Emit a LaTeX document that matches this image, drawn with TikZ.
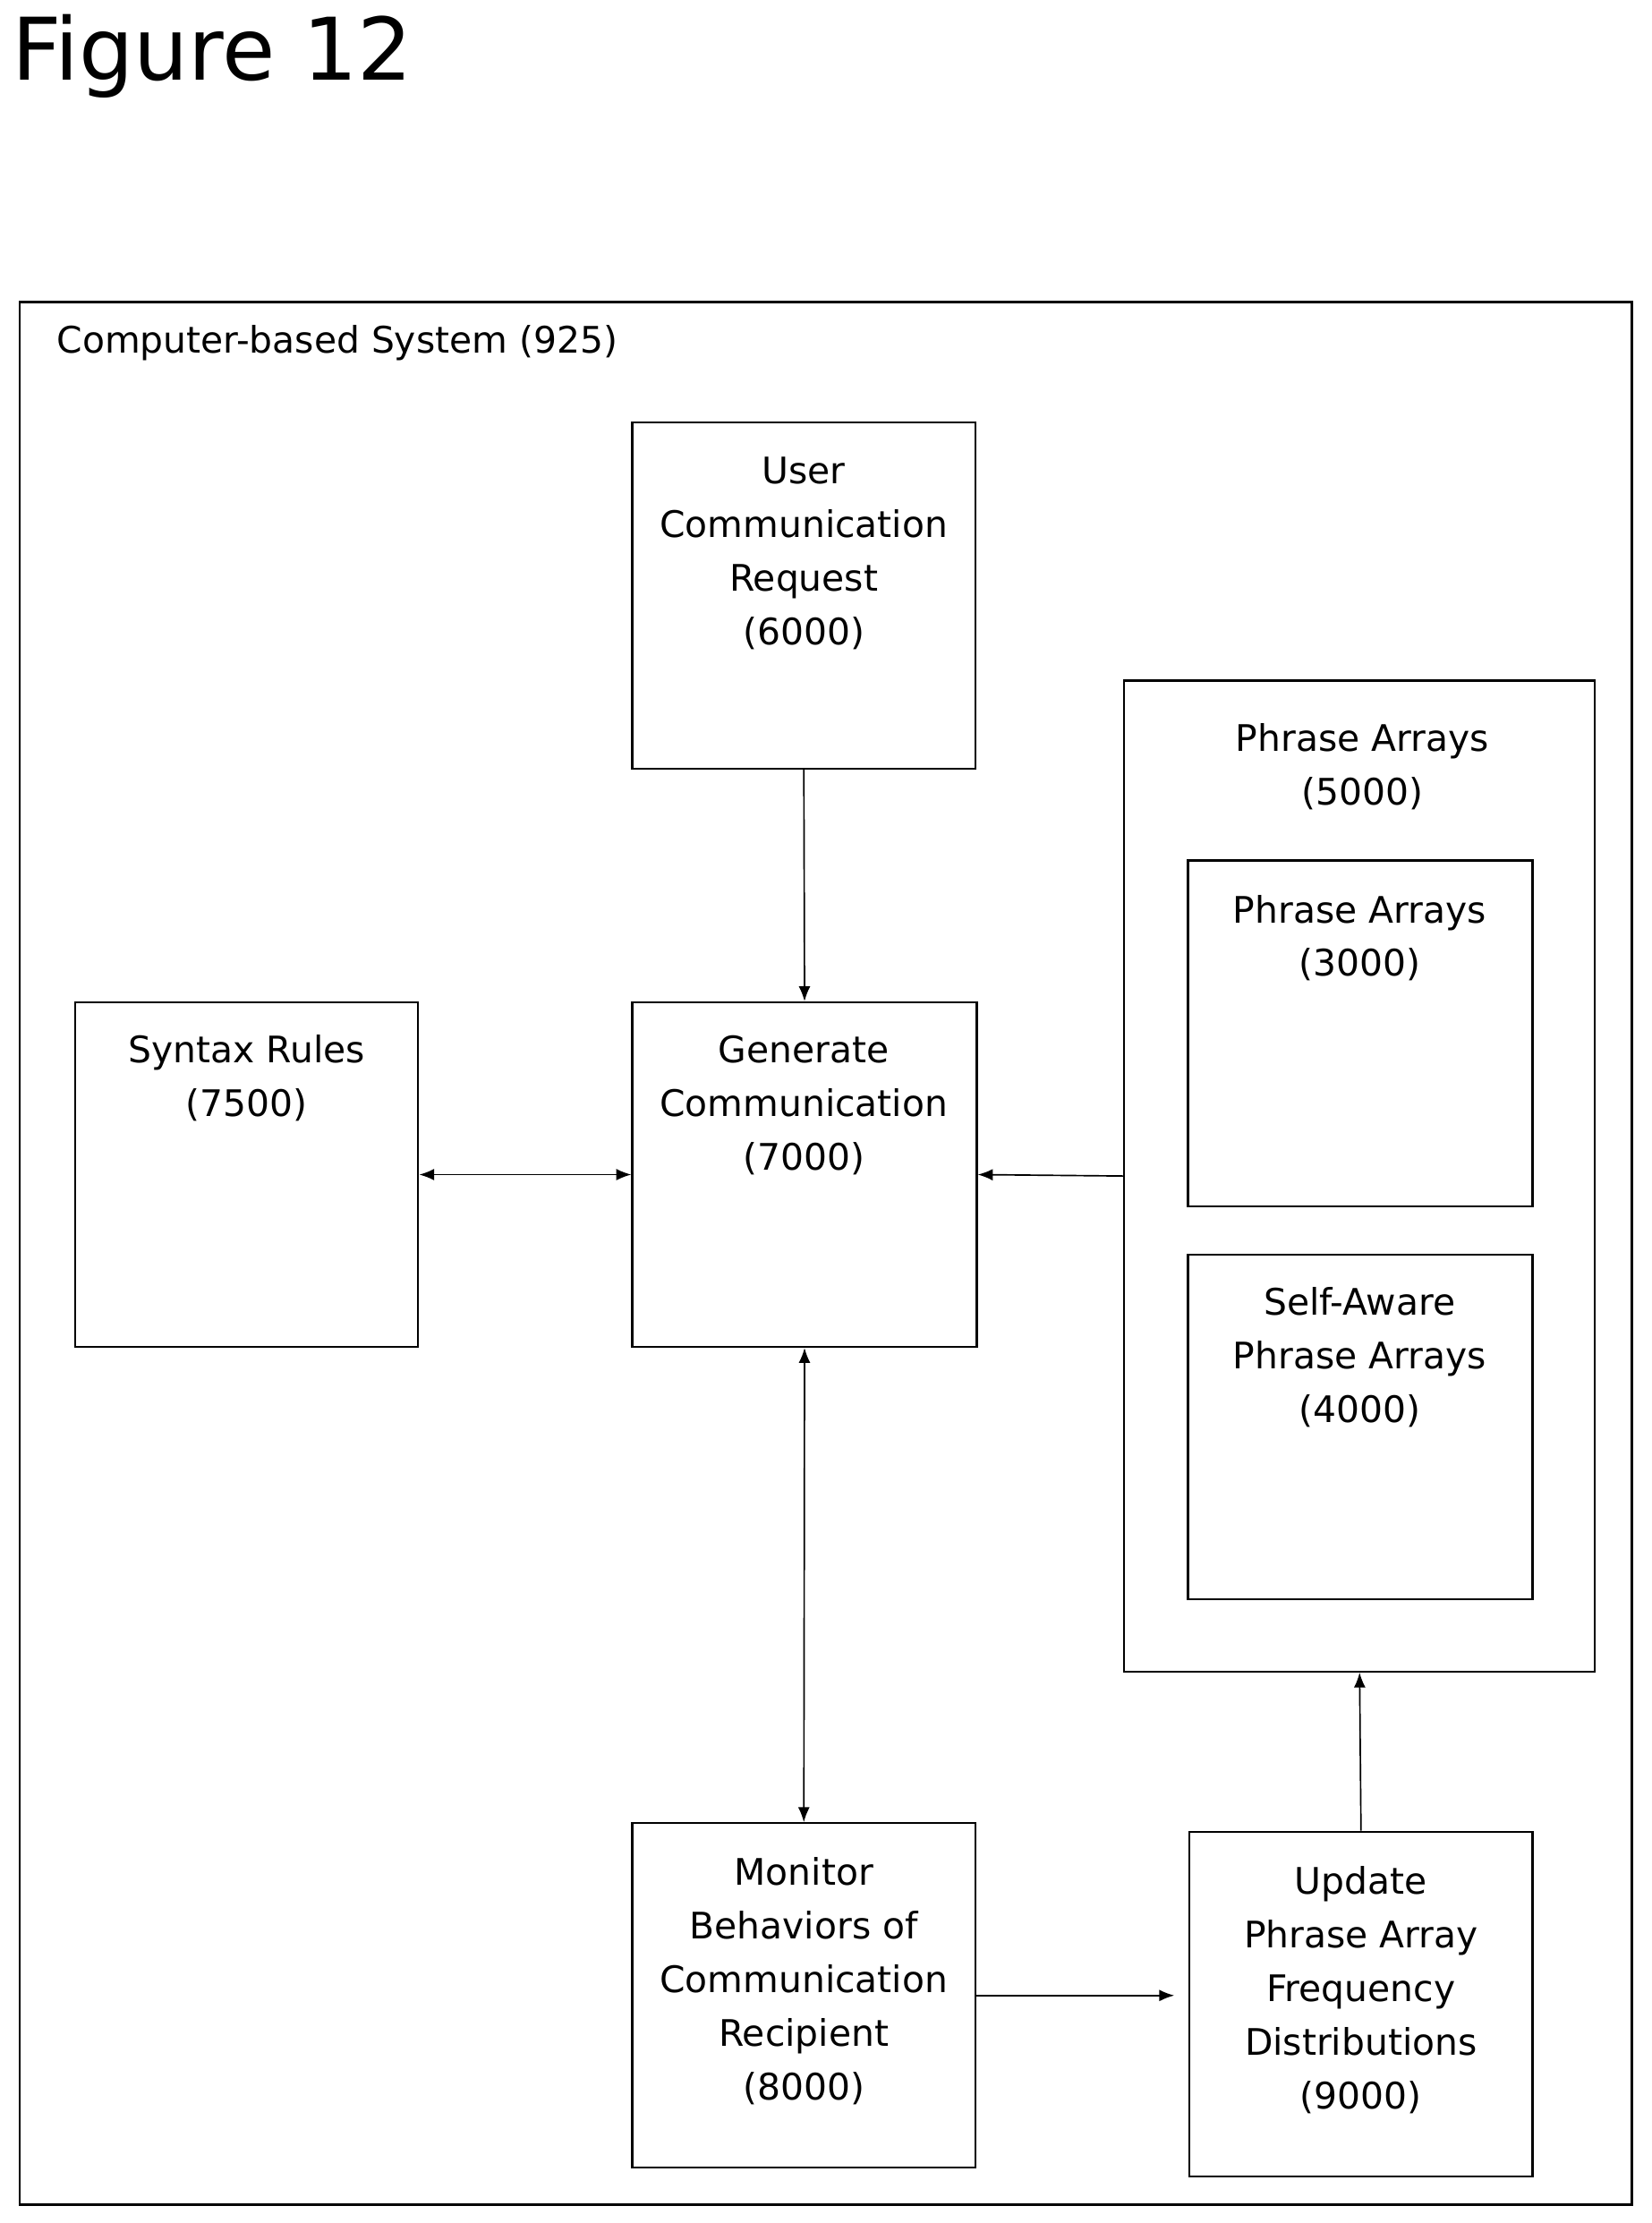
\documentclass[tikz,border=0pt]{standalone}
\usepackage{fontspec}
\setmainfont{DejaVu Sans}
\usetikzlibrary{arrows.meta}
\begin{document}
\begin{tikzpicture}[x=0.03cm,y=-0.03cm,
 box/.style={draw,line width=1.2pt,rectangle,inner sep=0pt},
 lbl/.style={anchor=north,align=center,font=\fontsize{22pt}{32.3pt}\selectfont,inner sep=0pt},
 arr/.style={line width=0.9pt,-{Latex[length=9pt,width=7pt]}},
 darr/.style={line width=0.9pt,{Latex[length=9pt,width=7pt]}-{Latex[length=9pt,width=7pt]}}]
\useasboundingbox (0,0) rectangle (1165,1568);
\node[anchor=west,inner sep=0pt,font=\fontsize{52pt}{60pt}\selectfont] (title) at (8,40) {Figure 12};
\node[box,minimum width=34.11cm,minimum height=40.26cm] (sys) at (582.5,884) {};
\node[anchor=west,inner sep=0pt,font=\fontsize{22pt}{30pt}\selectfont] (syslbl) at (40,242) {Computer-based System (925)};
\node[box,minimum width=7.26cm,minimum height=7.32cm] (user) at (567,420) {};
\node[lbl] (userl) at (567,322) {User\\Communication\\Request\\(6000)};
\node[box,minimum width=7.29cm,minimum height=7.29cm] (gen) at (567.5,828.5) {};
\node[lbl] (genl) at (567,730) {Generate\\Communication\\(7000)};
\node[box,minimum width=7.26cm,minimum height=7.29cm] (syn) at (174,828.5) {};
\node[lbl] (synl) at (174,730) {Syntax Rules\\(7500)};
\node[box,minimum width=9.96cm,minimum height=20.97cm] (pa) at (959,829.5) {};
\node[lbl] (pal) at (961,510) {Phrase Arrays\\(5000)};
\node[box,minimum width=7.29cm,minimum height=7.32cm] (p3) at (959.5,729) {};
\node[lbl] (p3l) at (959,631) {Phrase Arrays\\(3000)};
\node[box,minimum width=7.29cm,minimum height=7.29cm] (p4) at (959.5,1006.5) {};
\node[lbl] (p4l) at (959,908) {Self-Aware\\Phrase Arrays\\(4000)};
\node[box,minimum width=7.26cm,minimum height=7.29cm] (mon) at (567,1407.5) {};
\node[lbl] (monl) at (567,1310) {Monitor\\Behaviors of\\Communication\\Recipient\\(8000)};
\node[box,minimum width=7.26cm,minimum height=7.29cm] (upd) at (960,1413.5) {};
\node[lbl] (updl) at (960,1316) {Update\\Phrase Array\\Frequency\\Distributions\\(9000)};
\draw[arr] (user.south) -- (gen.north);
\draw[darr] (syn.east) -- (gen.east -| gen.west);
\draw[arr] (pa.west) -- (gen.east);
\draw[darr] (gen.south) -- (mon.north);
\draw[arr] (mon.east) -- ([xshift=-0.3cm]upd.west |- mon.east);
\draw[arr] (upd.north) -- (pa.south);
\end{tikzpicture}
\end{document}
